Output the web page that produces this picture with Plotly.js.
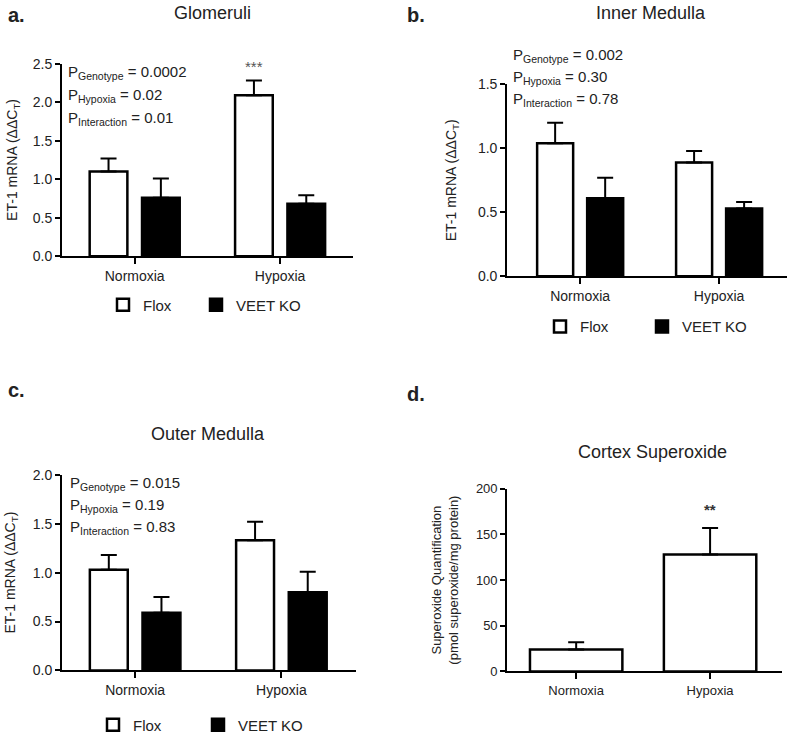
<!DOCTYPE html>
<html>
<head>
<meta charset="utf-8">
<script src="https://cdn.plot.ly/plotly-3.0.1.min.js"></script>
<style>html,body{margin:0;padding:0;background:#fff;}#chart{width:800px;height:742px;}</style>
</head>
<body>
<div id="chart"></div>
<script>
// ---- data ----
const categories = ['Normoxia', 'Hypoxia'];
const seriesNames = ['Flox', 'VEET KO'];

const gloFlox = [1.10, 2.09];
const gloFloxErr = [0.17, 0.19];
const gloKO = [0.76, 0.68];
const gloKOErr = [0.25, 0.11];

const imFlox = [1.04, 0.89];
const imFloxErr = [0.16, 0.09];
const imKO = [0.61, 0.53];
const imKOErr = [0.16, 0.05];

const omFlox = [1.03, 1.33];
const omFloxErr = [0.15, 0.19];
const omKO = [0.59, 0.80];
const omKOErr = [0.16, 0.21];

const cortex = [24, 128];
const cortexErr = [8, 29];

const panelTitles = ['Glomeruli', 'Inner Medulla', 'Outer Medulla', 'Cortex Superoxide'];
const pGlo = ['0.0002', '0.02', '0.01'];
const pIM = ['0.002', '0.30', '0.78'];
const pOM = ['0.015', '0.19', '0.83'];
const pNames = ['Genotype', 'Hypoxia', 'Interaction'];

// ---- helpers ----
const FONT = 'Arial, "Liberation Sans", sans-serif';
const TXT = '#222';
const zeros = n => new Array(n).fill(0);

function barTrace(name, y, err, xa, ya, legend, fill, showlegend) {
  return {
    type: 'bar', name: name, x: categories, y: y,
    xaxis: xa, yaxis: ya, legend: legend, showlegend: showlegend,
    marker: {color: fill, line: {color: '#000', width: 2.5}},
    error_y: {type: 'data', symmetric: false, array: err, arrayminus: zeros(err.length),
              color: '#000', thickness: 2, width: 8},
    hoverinfo: 'skip'
  };
}

const traces = [
  barTrace(seriesNames[0], gloFlox, gloFloxErr, 'x', 'y', 'legend', '#fff', true),
  barTrace(seriesNames[1], gloKO, gloKOErr, 'x', 'y', 'legend2', '#000', true),
  barTrace(seriesNames[0], imFlox, imFloxErr, 'x2', 'y2', 'legend3', '#fff', true),
  barTrace(seriesNames[1], imKO, imKOErr, 'x2', 'y2', 'legend4', '#000', true),
  barTrace(seriesNames[0], omFlox, omFloxErr, 'x3', 'y3', 'legend5', '#fff', true),
  barTrace(seriesNames[1], omKO, omKOErr, 'x3', 'y3', 'legend6', '#000', true),
  Object.assign(barTrace('Cortex', cortex, cortexErr, 'x4', 'y4', 'legend7', '#fff', false),
                {width: 0.69, offsetgroup: 'c'})
];

function xax(domain, range, anchor, fs) {
  return {
    domain: domain, range: range, anchor: anchor, type: 'category',
    showline: true, linecolor: '#000', linewidth: 2, showgrid: false, zeroline: false,
    ticks: 'outside', ticklen: 6, tickwidth: 2, tickcolor: '#000',
    tickfont: {family: FONT, size: fs, color: TXT}, fixedrange: true
  };
}
function yax(domain, range, dtick, fmt, anchor, title, tsize, standoff, fs) {
  return {
    domain: domain, range: range, anchor: anchor, dtick: dtick, tick0: 0, tickformat: fmt,
    showline: true, linecolor: '#000', linewidth: 2, showgrid: false, zeroline: false,
    ticks: 'outside', ticklen: 5, tickwidth: 2, tickcolor: '#000',
    tickfont: {family: FONT, size: fs, color: TXT}, fixedrange: true,
    title: {text: title, font: {family: FONT, size: tsize, color: TXT}, standoff: standoff}
  };
}

const etTitle = 'ET-1 mRNA (ΔΔC<sub>T</sub>)';

function pAnn(vals, x0, ys) {
  return vals.map((v, i) => ({
    xref: 'paper', yref: 'paper', x: x0 / 800, y: 1 - ys[i] / 742,
    xanchor: 'left', yanchor: 'middle', showarrow: false,
    text: 'P<sub>' + pNames[i] + '</sub> = ' + v,
    font: {family: FONT, size: 15, color: TXT}
  }));
}
function paperText(text, x, y, size, bold, anchor) {
  return {xref: 'paper', yref: 'paper', x: x / 800, y: 1 - y / 742, xanchor: anchor || 'center',
          yanchor: 'middle', showarrow: false,
          text: bold ? '<b>' + text + '</b>' : text,
          font: {family: FONT, size: size, color: TXT}};
}

const annotations = [
  paperText('a.', 6, 15, 20, true, 'left'),
  paperText('b.', 405, 15, 20, true, 'left'),
  paperText('c.', 6, 393, 20, true, 'left'),
  paperText('d.', 405, 397, 20, true, 'left'),
  paperText(panelTitles[0], 212, 13, 18),
  paperText(panelTitles[1], 651, 13, 18),
  paperText(panelTitles[2], 208, 437, 18),
  paperText(panelTitles[3], 652, 455, 18),
  ...pAnn(pGlo, 66, [73, 96, 119]),
  ...pAnn(pIM, 511, [56, 78, 100]),
  ...pAnn(pOM, 68, [487, 509, 531]),
  {xref: 'x', yref: 'y', x: 0.82, y: gloFlox[1] + gloFloxErr[1], yshift: 4, yanchor: 'bottom',
   showarrow: false, text: '***', font: {family: FONT, size: 15, color: '#555'}},
  {xref: 'x4', yref: 'y4', x: 1, y: cortex[1] + cortexErr[1], yshift: 8, yanchor: 'bottom',
   showarrow: false, text: '<b>**</b>', font: {family: FONT, size: 15, color: '#333'}}
];

// one legend box per entry, positioned by the x of its label text
function leg(textX, y) {
  return {x: (textX - 40) / 800, y: 1 - y / 742, xanchor: 'left', yanchor: 'middle',
          orientation: 'h', font: {family: FONT, size: 15, color: TXT},
          bgcolor: 'rgba(0,0,0,0)', itemclick: false, itemdoubleclick: false};
}

const layout = {
  width: 800, height: 742,
  margin: {l: 0, r: 0, t: 0, b: 0},
  paper_bgcolor: '#fff', plot_bgcolor: '#fff',
  font: {family: FONT, color: TXT},
  barmode: 'group', bargap: 0.28, bargroupgap: 0.28,
  showlegend: true,
  xaxis: xax([0.0775, 0.441], [-0.5, 1.5], 'y', 14),
  yaxis: yax([0.6523, 0.9137], [0, 2.5], 0.5, '.1f', 'x', etTitle, 14, 12, 14),
  xaxis2: xax([0.634, 0.984], [-0.525, 1.49], 'y2', 14),
  yaxis2: yax([0.6253, 0.8854], [0, 1.5], 0.5, '.1f', 'x2', etTitle, 14, 18, 14),
  xaxis3: xax([0.0775, 0.445], [-0.5, 1.51], 'y3', 14),
  yaxis3: yax([0.0903, 0.3558], [0, 2.0], 0.5, '.1f', 'x3', etTitle, 14, 14, 14),
  xaxis4: xax([0.634, 0.9775], [-0.515, 1.537], 'y4', 13),
  yaxis4: yax([0.0889, 0.3369], [0, 200], 50, 'd', 'x4',
              'Superoxide Quantification<br>(pmol superoxide/mg protein)', 13, 14, 13),
  legend: leg(143, 307),
  legend2: leg(236, 307),
  legend3: leg(580, 329),
  legend4: leg(682, 329),
  legend5: leg(133, 730),
  legend6: leg(238, 730),
  legend7: {visible: false},
  annotations: annotations
};

Plotly.newPlot('chart', traces, layout, {staticPlot: true, displayModeBar: false});
</script>
</body>
</html>
